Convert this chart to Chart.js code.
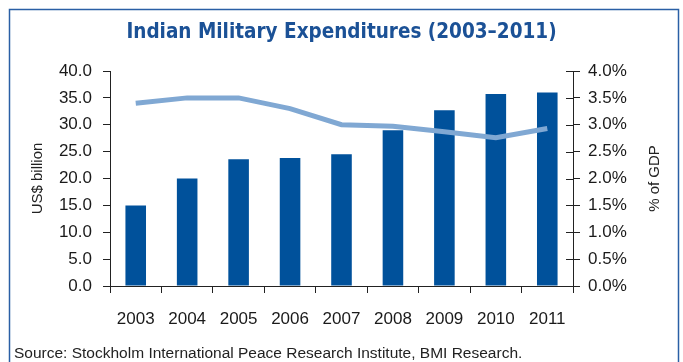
<!DOCTYPE html>
<html>
<head>
<meta charset="utf-8">
<script src="https://cdn.jsdelivr.net/npm/chart.js@4"></script>
<style>
  html, body { margin: 0; padding: 0; background: #fff; }
</style>
</head>
<body>
<canvas id="chart" width="683" height="362"></canvas>
<script>
const years = ["2003", "2004", "2005", "2006", "2007", "2008", "2009", "2010", "2011"];
const spending = [15.0, 20.0, 23.6, 23.8, 24.5, 29.0, 32.7, 35.7, 36.0];
const gdpShare = [3.40, 3.50, 3.50, 3.30, 3.00, 2.97, 2.87, 2.76, 2.93];
const rightTitle = "% of GDP";
const sourceNote = "Source: Stockholm International Peace Research Institute, BMI Research.";

Chart.defaults.font.family = "'Liberation Sans', Arial, sans-serif";
Chart.defaults.color = "#1a1a1a";

// frame, source line, right axis title (reads upwards) and crossing ticks on the right axis
const extras = {
  id: "extras",
  beforeDraw(chart) {
    const ctx = chart.ctx;
    ctx.save();
    ctx.fillStyle = "#fff";
    ctx.fillRect(0, 0, chart.width, chart.height);
    ctx.strokeStyle = "#2a5fa5";
    ctx.lineWidth = 1.5;
    ctx.strokeRect(9.5, 9.5, 669, 370);
    ctx.restore();
  },
  afterDraw(chart) {
    const ctx = chart.ctx;
    const r = chart.scales.y1;
    ctx.save();
    ctx.strokeStyle = "#222";
    ctx.lineWidth = 1;
    r.ticks.forEach((t, i) => {
      const py = Math.round(r.getPixelForTick(i)) + 0.5;
      ctx.beginPath();
      ctx.moveTo(r.left - 7, py);
      ctx.lineTo(r.left, py);
      ctx.stroke();
    });
    ctx.fillStyle = "#222";
    ctx.font = "15px 'Liberation Sans', Arial, sans-serif";
    ctx.textAlign = "center";
    ctx.textBaseline = "middle";
    ctx.translate(r.right - 28, (r.top + r.bottom) / 2);
    ctx.rotate(-Math.PI / 2);
    ctx.fillText(rightTitle, 0, 0);
    ctx.restore();

    ctx.save();
    ctx.fillStyle = "#222";
    ctx.font = "15.5px 'Liberation Sans', Arial, sans-serif";
    ctx.textBaseline = "middle";
    ctx.fillText(sourceNote, 14, 354);
    ctx.restore();
  }
};

new Chart(document.getElementById("chart"), {
  data: {
    labels: years,
    datasets: [
      {
        type: "line",
        label: "% of GDP",
        data: gdpShare,
        yAxisID: "y1",
        borderColor: "#80a8d3",
        borderWidth: 5,
        pointRadius: 0,
        tension: 0,
        order: 0
      },
      {
        type: "bar",
        label: "US$ billion",
        data: spending,
        yAxisID: "y",
        backgroundColor: "#00519b",
        categoryPercentage: 1,
        barPercentage: 0.4,
        order: 1
      }
    ]
  },
  options: {
    responsive: false,
    animation: false,
    layout: { padding: 0 },
    plugins: {
      legend: { display: false },
      tooltip: { enabled: false },
      title: {
        display: true,
        text: "Indian Military Expenditures (2003\u20132011)",
        color: "#1b5196",
        font: { family: "'Liberation Sans Narrow', 'DejaVu Sans Condensed', sans-serif", size: 20.5, weight: "bold" },
        padding: { top: 20, bottom: 26.4 }
      }
    },
    scales: {
      x: {
        afterFit(s) { s.height = 76; },
        grid: { drawOnChartArea: false, drawTicks: true, tickLength: 7, color: "#222", offset: true },
        border: { color: "#222" },
        ticks: { font: { size: 17 }, padding: 16, color: "#1a1a1a" }
      },
      y: {
        position: "left",
        min: 0,
        max: 40,
        afterFit(s) { s.width = 110; },
        grid: { drawOnChartArea: false, tickLength: 7, color: "#222" },
        border: { color: "#222" },
        ticks: { stepSize: 5, font: { size: 17 }, padding: 11, callback: v => v.toFixed(1) },
        title: { display: true, text: "US$ billion", font: { size: 15 }, color: "#222", padding: { top: 29, bottom: 0 } }
      },
      y1: {
        position: "right",
        min: 0,
        max: 4,
        afterFit(s) { s.width = 110; },
        grid: { drawOnChartArea: false, tickLength: 7, color: "#222" },
        border: { color: "#222" },
        ticks: { stepSize: 0.5, font: { size: 17 }, padding: 8, callback: v => v.toFixed(1) + "%" },
        title: { display: false }
      }
    }
  },
  plugins: [extras]
});
</script>
</body>
</html>
